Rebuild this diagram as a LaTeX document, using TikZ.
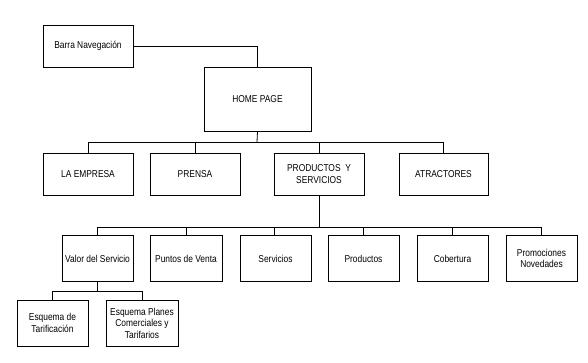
\documentclass[tikz,border=0pt]{standalone}
\usepackage{fontspec}
\setmainfont{Liberation Sans}[FakeStretch=0.84]
\begin{document}
\begin{tikzpicture}[x=1pt,y=-1pt,
  box/.style={draw=black, line width=0.8pt, align=center, inner sep=1pt,
    font=\fontsize{10}{11.5}\selectfont, minimum width=#1},
  box/.default=90pt,
  conn/.style={line width=0.8pt}]
\useasboundingbox (0,0) rectangle (588,362);
\node[box=90pt, minimum height=42pt] (barra) at (88,46) {Barra Navegación};
\node[box=107pt, minimum height=64pt] (home) at (257.5,99) {HOME PAGE};
\node[box=90pt, minimum height=42pt] (emp) at (88,174) {LA EMPRESA};
\node[box=90pt, minimum height=42pt] (prensa) at (195,174) {PRENSA};
\node[box=90pt, minimum height=42pt] (prod) at (319,174) {PRODUCTOS \ Y\\SERVICIOS};
\node[box=89pt, minimum height=42pt] (atr) at (443.5,174) {ATRACTORES};
\node[box=71pt, minimum height=46pt] (valor) at (97.5,258.5) {Valor del Servicio};
\node[box=72pt, minimum height=46pt] (puntos) at (186,258.5) {Puntos de Venta};
\node[box=71pt, minimum height=46pt] (serv) at (275.5,258.5) {Servicios};
\node[box=71pt, minimum height=46pt] (produc) at (363.5,258.5) {Productos};
\node[box=71pt, minimum height=46pt] (cob) at (452.5,258.5) {Cobertura};
\node[box=71pt, minimum height=46pt] (promo) at (541.5,258.5) {Promociones\\Novedades};
\node[box=71pt, minimum height=46pt] (tarif) at (52.5,323) {Esquema de\\Tarificación};
\node[box=72pt, minimum height=46pt] (planes) at (142,323) {Esquema Planes\\Comerciales y\\Tarifarios};
\coordinate (bus1) at (257,142);
\coordinate (bus2) at (319,227.5);
\coordinate (bus3) at (97.5,291);
\draw[conn] (barra.east) -| (home.north);
\draw[conn] (home.south) -- (bus1);
\draw[conn] (emp.north) -- (emp.north |- bus1) -- (atr.north |- bus1) -- (atr.north);
\draw[conn] (prensa.north) -- (prensa.north |- bus1);
\draw[conn] (prod.north) -- (prod.north |- bus1);
\draw[conn] (prod.south) -- (bus2);
\draw[conn] (valor.north) -- (valor.north |- bus2) -- (promo.north |- bus2) -- (promo.north);
\draw[conn] (puntos.north) -- (puntos.north |- bus2);
\draw[conn] ([xshift=-1.5pt]serv.north) -- ([xshift=-1.5pt]serv.north |- bus2);
\draw[conn] (produc.north) -- (produc.north |- bus2);
\draw[conn] (cob.north) -- (cob.north |- bus2);
\draw[conn] (valor.south) -- (bus3);
\draw[conn] (tarif.north) -- (tarif.north |- bus3) -- (planes.north |- bus3) -- (planes.north);
\end{tikzpicture}
\end{document}
